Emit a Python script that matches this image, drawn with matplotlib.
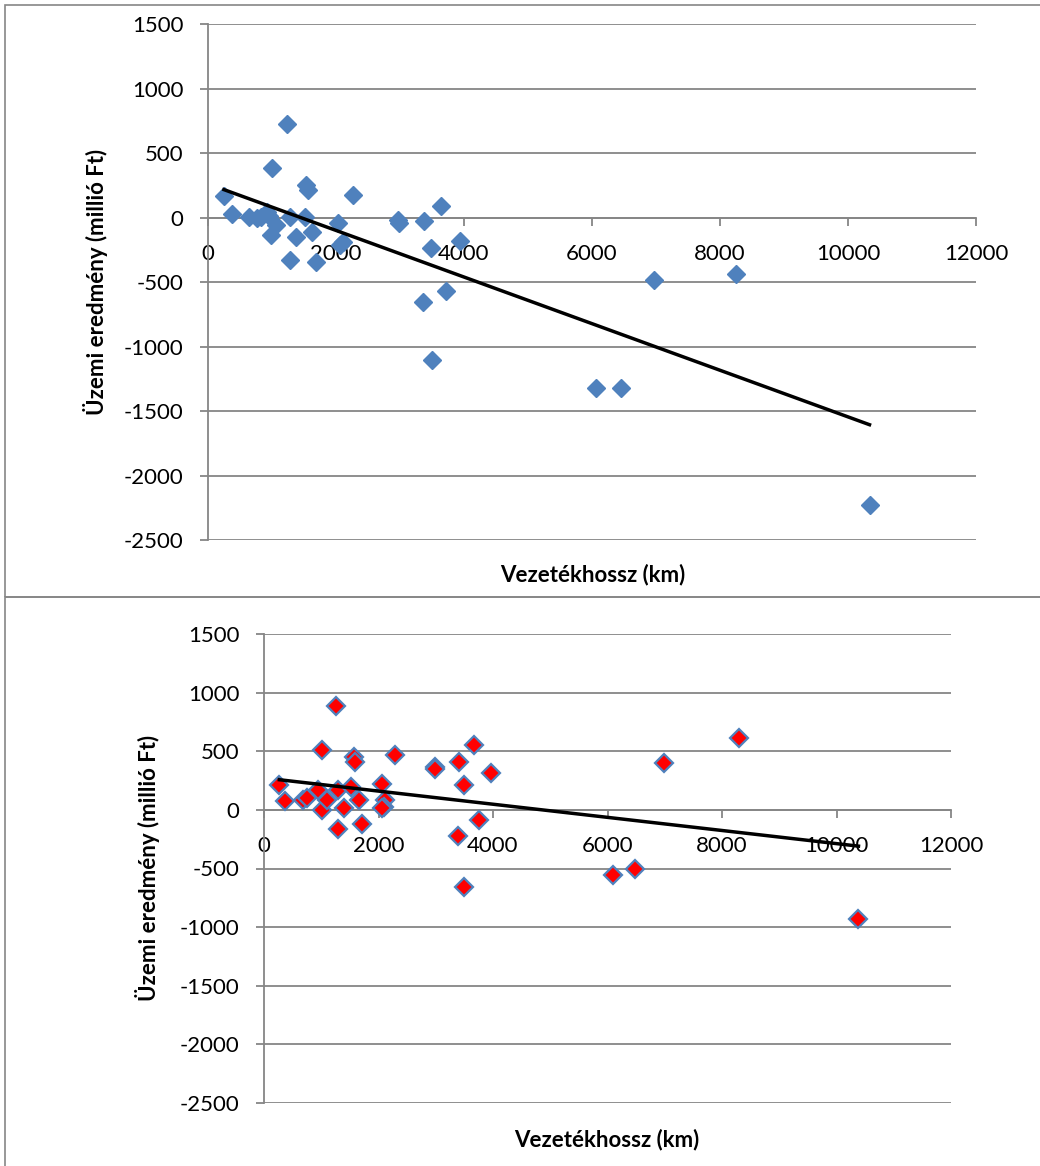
import numpy as np
import matplotlib
import matplotlib.pyplot as plt
from matplotlib.patches import Rectangle

# plot settings
matplotlib.rcParams.update({
    'font.family': ['Lato', 'DejaVu Sans'],
    'font.size': 16,
    'axes.unicode_minus': False,
})

# felso diagram: vezetekhossz (km) es uzemi eredmeny (millio Ft)
hossz_1 = [249, 369, 643, 758, 830, 924, 960, 992, 1007, 1070, 1241, 1277, 1277,
           1371, 1511, 1537, 1563, 1630, 1693, 2030, 2060, 2110, 2264, 2964, 2991,
           3370, 3484, 3354, 3500, 3640, 3718, 3941, 6065, 6456, 6961, 8253, 10336]
eredmeny_1 = [167, 25, 2, -6, 5, 45, 10, -136, 383, -58, 722, 2, -329,
              -153, 2, 252, 210, -115, -345, -40, -210, -190, 174, -19, -45,
              -28, -239, -653, -1104, 89, -567, -182, -1318, -1318, -482, -435, -2230]

# also diagram
hossz_2 = [268, 368, 689, 747, 951, 1010, 1010, 1098, 1261, 1301, 1301, 1389,
           1518, 1564, 1594, 1652, 1711, 2061, 2119, 2090, 2061, 2294, 2995, 2995,
           3400, 3386, 3500, 3500, 3660, 3750, 3968, 6100, 6488, 6992, 8297, 10384]
eredmeny_2 = [212, 75, 84, 98, 169, 510, -2, 84, 886, 169, -165, 15,
              198, 454, 411, 87, -120, 222, 80, 27, 12, 465, 369, 350,
              405, -227, 208, -662, 557, -87, 318, -557, -500, 400, 612, -929]

x_ticks = np.arange(0, 12001, 2000)
y_ticks = np.arange(-2500, 1501, 500)
x_label = 'Vezetékhossz (km)'
y_label = 'Üzemi eredmény (millió Ft)'

GRID = '#868686'
W, H = 1040, 1166


def setup(ax):
    ax.set_xlim(0, 12000)
    ax.set_ylim(-2500, 1500)
    ax.set_xticks(x_ticks)
    ax.set_yticks(y_ticks)
    ax.grid(axis='y', color=GRID, lw=1.3)
    ax.spines[['top', 'right']].set_visible(False)
    ax.spines['bottom'].set_position(('data', 0))
    for s in ('bottom', 'left'):
        ax.spines[s].set_color(GRID)
        ax.spines[s].set_linewidth(1.3)
    ax.tick_params(axis='x', direction='out', length=5.8, width=1.3, color=GRID, pad=13)
    ax.tick_params(axis='y', direction='out', length=5.8, width=1.3, color=GRID, pad=12)


def trend(ax, x, y):
    m, b = np.polyfit(x, y, 1)
    xs = np.array([min(x), max(x)])
    ax.plot(xs, m * xs + b, color='black', lw=2.5, zorder=4)


fig = plt.figure(figsize=(W / 100, H / 100), dpi=100)

# kerete a ket diagramnak
fig.add_artist(Rectangle((5 / W, 1 - 597 / H), 1.1, 592 / H, transform=fig.transFigure,
                         fill=False, ec=GRID, lw=1.2, clip_on=False))
fig.add_artist(Rectangle((5 / W, -0.1), 1.1, 0.1 + 1 - 597 / H, transform=fig.transFigure,
                         fill=False, ec=GRID, lw=1.2, clip_on=False))

ax1 = fig.add_axes([208 / W, 1 - 540 / H, (976 - 208) / W, (540 - 24) / H])
setup(ax1)
ax1.plot(hossz_1, eredmeny_1, 'D', ms=9.5, color='#4F81BD', mec='#4F81BD', zorder=3)
trend(ax1, hossz_1, eredmeny_1)
fig.text(593 / W, 1 - 575 / H, x_label, ha='center', va='center', weight='bold')
fig.text(96 / W, 1 - 282 / H, y_label, rotation=90, ha='center', va='center', weight='bold')

ax2 = fig.add_axes([264 / W, 1 - 1103 / H, (951 - 264) / W, (1103 - 634) / H])
setup(ax2)
ax2.plot(hossz_2, eredmeny_2, 'D', ms=9.5, mfc='red', mec='#4F81BD', mew=1.6, zorder=3)
trend(ax2, hossz_2, eredmeny_2)
fig.text(607 / W, 1 - 1140 / H, x_label, ha='center', va='center', weight='bold')
fig.text(148 / W, 1 - 868 / H, y_label, rotation=90, ha='center', va='center', weight='bold')

plt.savefig('out.png', dpi=100)
